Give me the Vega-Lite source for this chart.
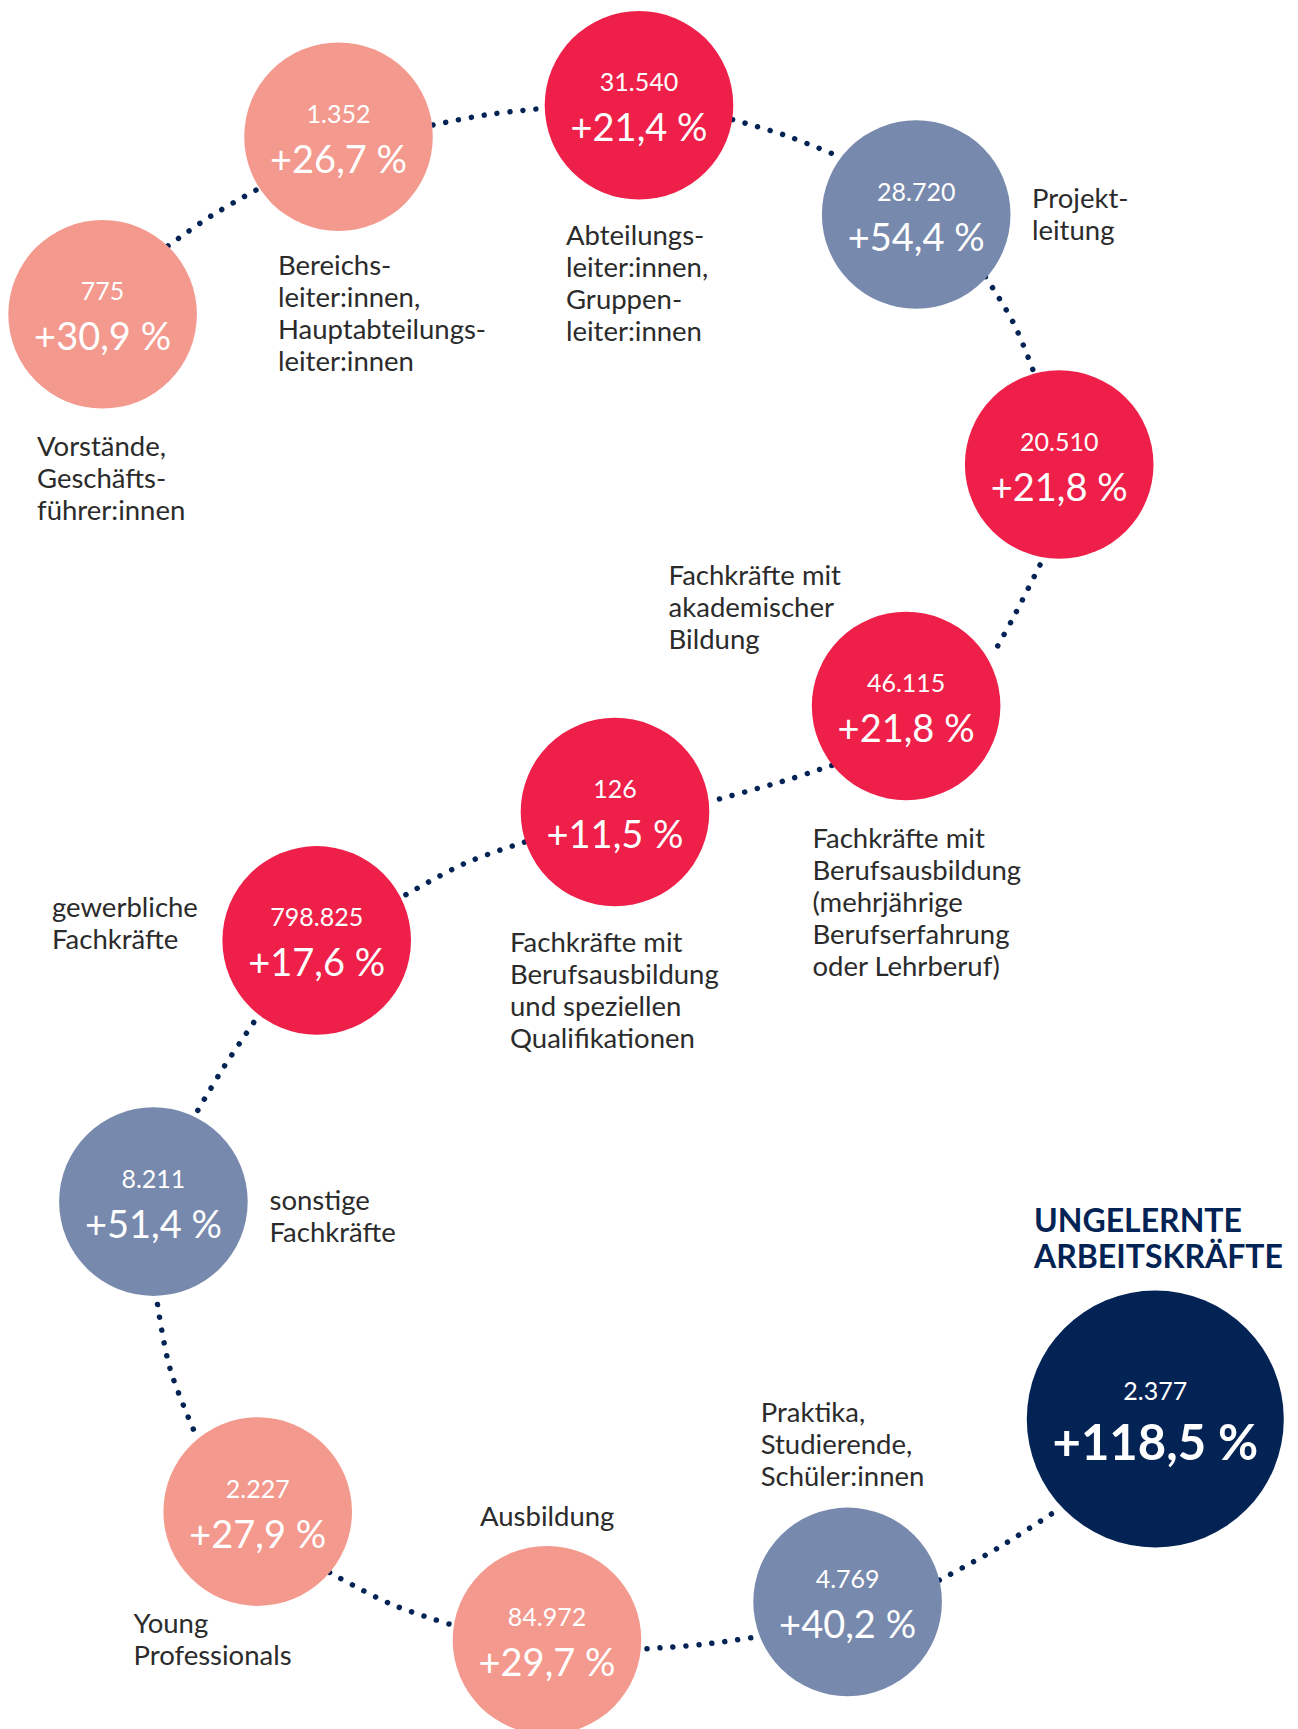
{
  "$schema": "https://vega.github.io/schema/vega-lite/v6.json",
  "width": 1298,
  "height": 1729,
  "autosize": "none",
  "padding": 0,
  "background": "#ffffff",
  "config": {
    "view": {"stroke": null},
    "locale": {"number": {"decimal": ",", "thousands": ".", "grouping": [3], "currency": ["", " €"]}},
    "text": {"font": "Lato"}
  },
  "datasets": {
    "circles": [
      {"name": "Vorstände", "count": 775, "growth": 30.9, "pct": "+30,9 %", "x": 102.6, "y": 314.3},
      {"name": "Bereichsleiter", "count": 1352, "growth": 26.7, "pct": "+26,7 %", "x": 338.5, "y": 136.7},
      {"name": "Abteilungsleiter", "count": 31540, "growth": 21.4, "pct": "+21,4 %", "x": 639, "y": 105.3},
      {"name": "Projektleitung", "count": 28720, "growth": 54.4, "pct": "+54,4 %", "x": 916.2, "y": 214.5},
      {"name": "Fachkräfte akademisch", "count": 20510, "growth": 21.8, "pct": "+21,8 %", "x": 1059.2, "y": 464.5},
      {"name": "Fachkräfte mehrjährig", "count": 46115, "growth": 21.8, "pct": "+21,8 %", "x": 906.1, "y": 706},
      {"name": "Fachkräfte speziell", "count": 126, "growth": 11.5, "pct": "+11,5 %", "x": 615, "y": 812},
      {"name": "gewerbliche Fachkräfte", "count": 798825, "growth": 17.6, "pct": "+17,6 %", "x": 316.7, "y": 940.4},
      {"name": "sonstige Fachkräfte", "count": 8211, "growth": 51.4, "pct": "+51,4 %", "x": 153.4, "y": 1201.6},
      {"name": "Young Professionals", "count": 2227, "growth": 27.9, "pct": "+27,9 %", "x": 257.7, "y": 1511.6},
      {"name": "Ausbildung", "count": 84972, "growth": 29.7, "pct": "+29,7 %", "x": 547, "y": 1640.2},
      {"name": "Praktika", "count": 4769, "growth": 40.2, "pct": "+40,2 %", "x": 847.6, "y": 1601.9},
      {"name": "Ungelernte", "count": 2377, "growth": 118.5, "pct": "+118,5 %", "x": 1155.3, "y": 1419}
    ],
    "path": [
      {"seg": "A", "o": 1, "x": 168, "y": 246}, {"seg": "A", "o": 2, "x": 211, "y": 216}, {"seg": "A", "o": 3, "x": 258, "y": 189},
      {"seg": "B", "o": 1, "x": 433, "y": 125}, {"seg": "B", "o": 2, "x": 485, "y": 115}, {"seg": "B", "o": 3, "x": 537, "y": 109},
      {"seg": "C", "o": 1, "x": 732.6, "y": 119.6}, {"seg": "C", "o": 2, "x": 784.3, "y": 135}, {"seg": "C", "o": 3, "x": 833.9, "y": 154.3},
      {"seg": "D", "o": 1, "x": 985.5, "y": 276.8}, {"seg": "D", "o": 2, "x": 1013.6, "y": 323.2}, {"seg": "D", "o": 3, "x": 1033.5, "y": 371.4},
      {"seg": "E", "o": 1, "x": 1040, "y": 565}, {"seg": "E", "o": 2, "x": 1013.6, "y": 617}, {"seg": "E", "o": 3, "x": 992, "y": 656},
      {"seg": "F", "o": 1, "x": 831.8, "y": 765.4}, {"seg": "F", "o": 2, "x": 782.2, "y": 781.4}, {"seg": "F", "o": 3, "x": 718.2, "y": 799.3},
      {"seg": "G", "o": 1, "x": 524.5, "y": 842.1}, {"seg": "G", "o": 2, "x": 464.3, "y": 863.6}, {"seg": "G", "o": 3, "x": 404.2, "y": 895.7},
      {"seg": "H", "o": 1, "x": 253.7, "y": 1022.5}, {"seg": "H", "o": 2, "x": 223.9, "y": 1067}, {"seg": "H", "o": 3, "x": 197, "y": 1111.8},
      {"seg": "I", "o": 1, "x": 157.5, "y": 1304.5}, {"seg": "I", "o": 2, "x": 170, "y": 1368.5}, {"seg": "I", "o": 3, "x": 194, "y": 1430.7},
      {"seg": "J", "o": 1, "x": 329.6, "y": 1572.4}, {"seg": "J", "o": 2, "x": 389.7, "y": 1603.5}, {"seg": "J", "o": 3, "x": 451.9, "y": 1624.9},
      {"seg": "K", "o": 1, "x": 647, "y": 1648.7}, {"seg": "K", "o": 2, "x": 703.7, "y": 1644.3}, {"seg": "K", "o": 3, "x": 759.5, "y": 1636.5},
      {"seg": "L", "o": 1, "x": 939.3, "y": 1580.2}, {"seg": "L", "o": 2, "x": 999.2, "y": 1547.2}, {"seg": "L", "o": 3, "x": 1057, "y": 1510.3}
    ],
    "labels": [
      {"text": "Vorstände,\nGeschäfts-\nführer:innen", "x": 37, "y": 456},
      {"text": "Bereichs-\nleiter:innen,\nHauptabteilungs-\nleiter:innen", "x": 278, "y": 275},
      {"text": "Abteilungs-\nleiter:innen,\nGruppen-\nleiter:innen", "x": 566, "y": 244.6},
      {"text": "Projekt-\nleitung", "x": 1032, "y": 208},
      {"text": "Fachkräfte mit\nakademischer\nBildung", "x": 668.6, "y": 585},
      {"text": "Fachkräfte mit\nBerufsausbildung\n(mehrjährige\nBerufserfahrung\noder Lehrberuf)", "x": 812.4, "y": 847.5},
      {"text": "Fachkräfte mit\nBerufsausbildung\nund speziellen\nQualifikationen", "x": 510, "y": 952},
      {"text": "gewerbliche\nFachkräfte", "x": 52, "y": 917},
      {"text": "sonstige\nFachkräfte", "x": 269.5, "y": 1210},
      {"text": "Young\nProfessionals", "x": 133.5, "y": 1632.6},
      {"text": "Ausbildung", "x": 480, "y": 1526},
      {"text": "Praktika,\nStudierende,\nSchüler:innen", "x": 760.7, "y": 1422}
    ],
    "title": [
      {"text": "UNGELERNTE\nARBEITSKRÄFTE", "x": 1034, "y": 1231.5}
    ]
  },
  "layer": [
    {
      "data": {"name": "path"},
      "mark": {"type": "line", "interpolate": "cardinal", "color": "#022354", "strokeWidth": 5.5, "strokeCap": "round", "strokeDash": [0.01, 13]},
      "encoding": {
        "x": {"field": "x", "type": "quantitative", "scale": {"domain": [0, 1298], "nice": false, "zero": false}, "axis": null},
        "y": {"field": "y", "type": "quantitative", "scale": {"domain": [0, 1729], "nice": false, "zero": false, "reverse": true}, "axis": null},
        "detail": {"field": "seg"},
        "order": {"field": "o"}
      }
    },
    {
      "data": {"name": "circles"},
      "mark": {"type": "point", "shape": "circle", "filled": true, "opacity": 1, "strokeWidth": 0},
      "encoding": {
        "x": {"field": "x", "type": "quantitative"},
        "y": {"field": "y", "type": "quantitative"},
        "color": {"field": "growth", "type": "quantitative", "scale": {"type": "threshold", "domain": [25, 35, 100], "range": ["#EE2049", "#F4998E", "#7789AD", "#022354"]}, "legend": null},
        "size": {"field": "growth", "type": "quantitative", "scale": {"type": "threshold", "domain": [100], "range": [35570, 66050]}, "legend": null}
      }
    },
    {
      "data": {"name": "circles"},
      "transform": [{"filter": "datum.growth < 100"}],
      "mark": {"type": "text", "align": "center", "baseline": "alphabetic", "dy": -14, "fontSize": 25, "color": "#ffffff"},
      "encoding": {
        "x": {"field": "x", "type": "quantitative"},
        "y": {"field": "y", "type": "quantitative"},
        "text": {"field": "count", "type": "quantitative", "format": ",d"}
      }
    },
    {
      "data": {"name": "circles"},
      "transform": [{"filter": "datum.growth < 100"}],
      "mark": {"type": "text", "align": "center", "baseline": "alphabetic", "dy": 36, "fontSize": 38, "color": "#ffffff"},
      "encoding": {
        "x": {"field": "x", "type": "quantitative"},
        "y": {"field": "y", "type": "quantitative"},
        "text": {"field": "pct"}
      }
    },
    {
      "data": {"name": "circles"},
      "transform": [{"filter": "datum.growth >= 100"}],
      "mark": {"type": "text", "align": "center", "baseline": "alphabetic", "dy": -19, "fontSize": 25, "color": "#ffffff"},
      "encoding": {
        "x": {"field": "x", "type": "quantitative"},
        "y": {"field": "y", "type": "quantitative"},
        "text": {"field": "count", "type": "quantitative", "format": ",d"}
      }
    },
    {
      "data": {"name": "circles"},
      "transform": [{"filter": "datum.growth >= 100"}],
      "mark": {"type": "text", "align": "center", "baseline": "alphabetic", "dy": 41, "fontSize": 49, "fontWeight": "bold", "color": "#ffffff"},
      "encoding": {
        "x": {"field": "x", "type": "quantitative"},
        "y": {"field": "y", "type": "quantitative"},
        "text": {"field": "pct"}
      }
    },
    {
      "data": {"name": "labels"},
      "mark": {"type": "text", "align": "left", "baseline": "alphabetic", "fontSize": 27.5, "lineHeight": 32, "lineBreak": "\n", "color": "#2b2b2b"},
      "encoding": {
        "x": {"field": "x", "type": "quantitative"},
        "y": {"field": "y", "type": "quantitative"},
        "text": {"field": "text"}
      }
    },
    {
      "data": {"name": "title"},
      "mark": {"type": "text", "align": "left", "baseline": "alphabetic", "fontSize": 32, "fontWeight": "bold", "lineHeight": 36, "lineBreak": "\n", "color": "#022354", "letterSpacing": 0.6},
      "encoding": {
        "x": {"field": "x", "type": "quantitative"},
        "y": {"field": "y", "type": "quantitative"},
        "text": {"field": "text"}
      }
    }
  ]
}
